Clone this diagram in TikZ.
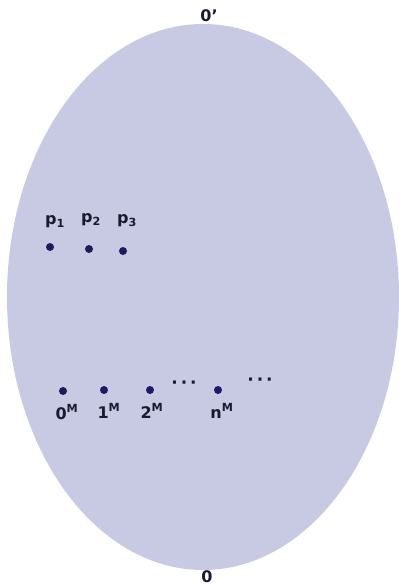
\documentclass[tikz,border=0pt]{standalone}
\usepackage{fontspec}
\setmainfont{DejaVu Sans}
\definecolor{ellfill}{HTML}{C8CAE4}
\definecolor{dotc}{HTML}{1E1B5C}
\definecolor{txtc}{HTML}{1A1A2E}
\begin{document}
\begin{tikzpicture}[x=1pt,y=-1pt,
  pt/.style={circle,fill=dotc,inner sep=0pt,minimum size=8pt},
  lbl/.style={font=\bfseries\fontsize{16}{18}\selectfont,text=txtc,inner sep=0pt},
  dots/.style={font=\bfseries\fontsize{17}{18}\selectfont,text=txtc,inner sep=0pt}]
\useasboundingbox (0,0) rectangle (399,587);
\fill[ellfill] (203,297) ellipse [x radius=196, y radius=273];
\node[lbl] (top) at (209,16) {0’};
\node[lbl] (bot) at (207,577) {0};
\node[pt] (d1) at (50,247) {};
\node[pt] (d2) at (89,249) {};
\node[pt] (d3) at (123,251) {};
\node[lbl] (p1) at (55,222) {p\textsubscript{1}};
\node[lbl] (p2) at (91,220) {p\textsubscript{2}};
\node[lbl] (p3) at (127,221) {p\textsubscript{3}};
\node[pt] (m0) at (63,391) {};
\node[pt] (m1) at (104,390) {};
\node[pt] (m2) at (150,390) {};
\node[pt] (mn) at (218,390) {};
\node[dots] (e1) at (184,385) {·\,·\,·};
\node[dots] (e2) at (260,382) {·\,·\,·};
\node[lbl] (l0) at (67,412) {0\textsuperscript{M}};
\node[lbl] (l1) at (109,411) {1\textsuperscript{M}};
\node[lbl] (l2) at (152,411) {2\textsuperscript{M}};
\node[lbl] (ln) at (222,411) {n\textsuperscript{M}};
\end{tikzpicture}
\end{document}
